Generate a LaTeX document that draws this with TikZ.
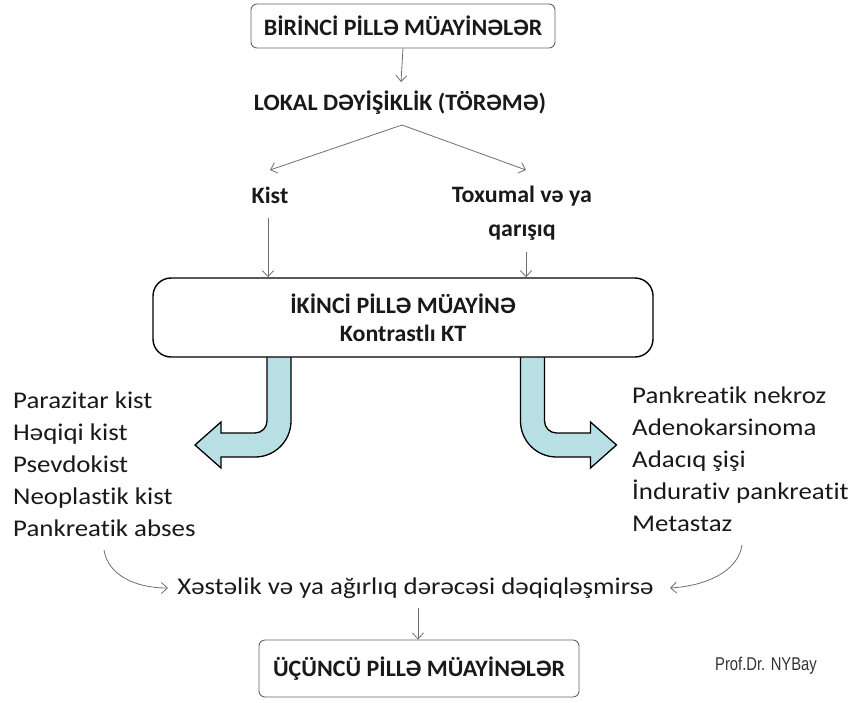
\documentclass[tikz,border=0pt]{standalone}
\usepackage{fontspec}
\setmainfont[Ligatures=NoCommon, BoldFeatures={FakeStretch=1.02}]{Carlito}
\newfontfamily\regfont[Ligatures=NoCommon, FakeStretch=1.12]{Carlito}
\newfontfamily\arialfont[FakeStretch=0.8]{Liberation Sans}
\usetikzlibrary{arrows.meta}
\definecolor{conngray}{RGB}{110,110,110}
\definecolor{boxgray}{RGB}{100,100,100}
\definecolor{arrowfill}{RGB}{184,223,227}
\definecolor{txt}{RGB}{25,25,25}
\tikzset{
  conn/.style={draw=conngray, line width=0.8pt, -{Straight Barb[length=6pt,width=11pt]}},
  stagebox/.style={draw=boxgray, line width=0.9pt, rounded corners=6pt, fill=white, text=txt,
     font=\bfseries\fontsize{23.5}{28}\selectfont, inner sep=0pt},
  bigbox/.style={draw=black, line width=1.4pt, rounded corners=18pt, fill=white, text=txt,
     font=\bfseries\fontsize{23.5}{28}\selectfont, align=center, inner sep=0pt},
  boldlbl/.style={text=txt, font=\bfseries\fontsize{23.5}{34}\selectfont, inner sep=0pt, align=center},
  plainlbl/.style={text=txt, font=\regfont\fontsize{24}{32}\selectfont, inner sep=0pt},
  bendarrow/.style={draw=black, line width=1.3pt, fill=arrowfill, line join=miter},
}
\begin{document}
\begin{tikzpicture}[x=1pt,y=-1pt]
\useasboundingbox (0,0) rectangle (849,702);

% bent block arrows (drawn under the big box)
\path[bendarrow] (267,350) -- (267,421) .. controls (267,427.6) and (261.6,433) .. (255,433)
  -- (221,433) -- (221,422) -- (195,445) -- (221,468) -- (221,457) -- (255,457)
  .. controls (274.9,457) and (291,440.9) .. (291,421) -- (291,350) -- cycle;
\path[bendarrow] (544.5,350) -- (544.5,421) .. controls (544.5,427.6) and (549.9,433) .. (556.5,433)
  -- (590.5,433) -- (590.5,422) -- (616.5,445) -- (590.5,468) -- (590.5,457) -- (556.5,457)
  .. controls (536.6,457) and (520.5,440.9) .. (520.5,421) -- (520.5,350) -- cycle;

% nodes
\node[stagebox, minimum width=304pt, minimum height=44pt] (b1) at (403,26) {BİRİNCİ PİLLƏ MÜAYİNƏLƏR};
\node[boldlbl] (lokal) at (400,103) {LOKAL DƏYİŞİKLİK (TÖRƏMƏ)};
\node[boldlbl] (kist) at (270,195) {Kist};
\node[boldlbl] (tox) at (522,213) {Toxumal və ya\\qarışıq};
\node[bigbox, minimum width=500pt, minimum height=79pt] (b2) at (403,317.5) {İKİNCİ PİLLƏ MÜAYİNƏ\\Kontrastlı KT};
\node[plainlbl, anchor=west, align=left] (left) at (13,464) {Parazitar kist\\Həqiqi kist\\Psevdokist\\Neoplastik kist\\Pankreatik abses};
\node[plainlbl, anchor=west, align=left] (right) at (632,459) {Pankreatik nekroz\\Adenokarsinoma\\Adacıq şişi\\İndurativ pankreatit\\Metastaz};
\node[plainlbl] (xs) at (415.5,588) {Xəstəlik və ya ağırlıq dərəcəsi dəqiqləşmirsə};
\node[stagebox, minimum width=320pt, minimum height=57pt] (b3) at (419,668.5) {ÜÇÜNCÜ PİLLƏ MÜAYİNƏLƏR};
\node[text=black!80, font=\arialfont\fontsize{18.5}{20}\selectfont, inner sep=0pt] (prof) at (766,666) {Prof.Dr. NYBay};

% connector end points
\coordinate (lokIn) at (401,82);
\coordinate (split) at (402,125);
\coordinate (kistIn) at (270,170);
\coordinate (toxIn) at (526,170);
\coordinate (kistOut) at (268,218);
\coordinate (toxOut) at (526,252);
\coordinate (leftOut) at (104,550);
\coordinate (xsL) at (168,588);
\coordinate (rightOut) at (742,545);
\coordinate (xsR) at (670,588);
\coordinate (xsOut) at (418,608);

% connectors
\draw[conn] (b1.south) -- (lokIn);
\draw[conn] (split) -- (kistIn);
\draw[conn] (split) -- (toxIn);
\draw[conn] (kistOut) -- (kistOut |- b2.north);
\draw[conn] (toxOut) -- (toxOut |- b2.north);
\draw[conn] (leftOut) .. controls (108,575) and (135,588) .. (xsL);
\draw[conn] (rightOut) .. controls (738,572) and (705,586) .. (xsR);
\draw[conn] (xsOut) -- (xsOut |- b3.north);
\end{tikzpicture}
\end{document}
